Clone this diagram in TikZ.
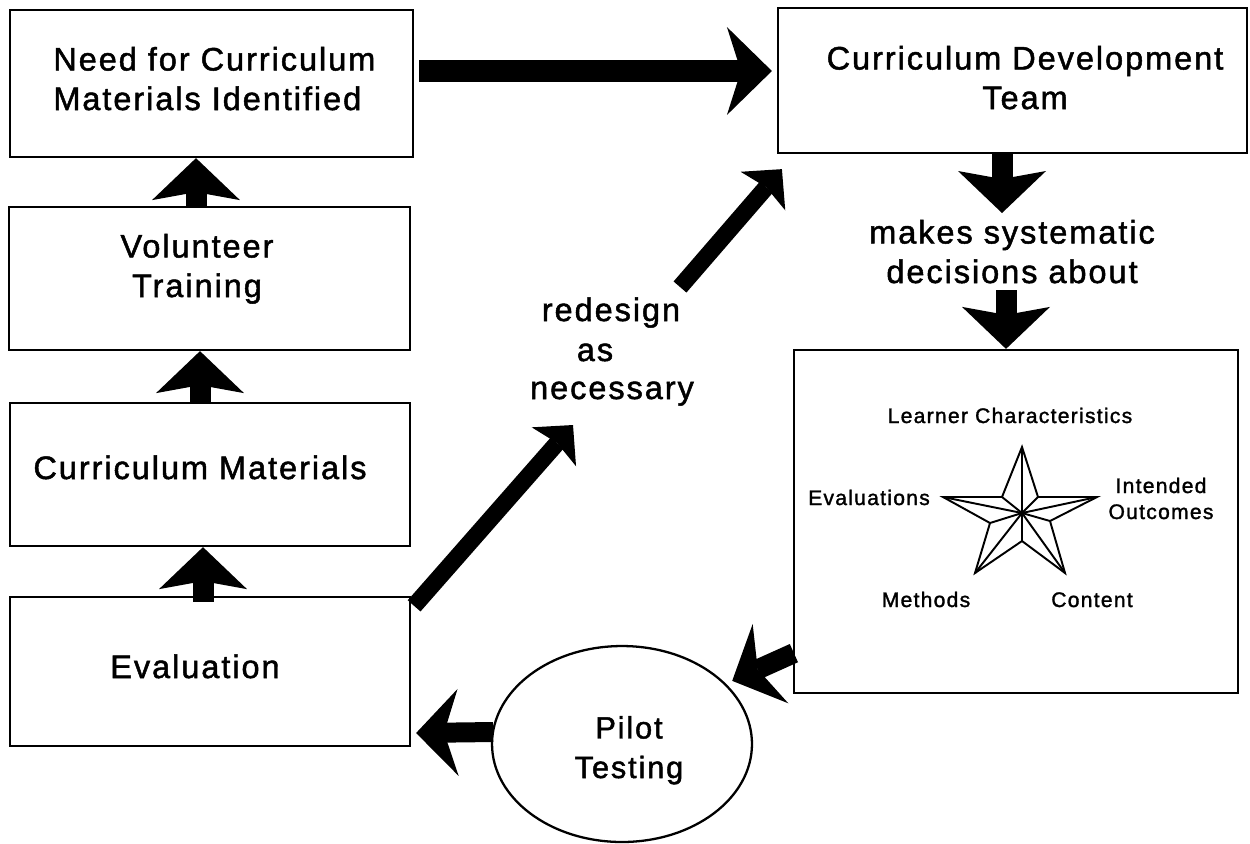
\documentclass[tikz,border=0pt]{standalone}
\usepackage{fontspec}
\setmainfont{Liberation Sans}[LetterSpace=6,FakeBold=1.5]
\usetikzlibrary{arrows.meta,shapes.geometric,calc}

\begin{document}
\begin{tikzpicture}[x=0.02cm,y=-0.02cm,
  box/.style 2 args={draw,line width=1.3pt,inner sep=0pt,
    minimum width=#1,minimum height=#2},
  bigtxt/.style={font=\fontsize{18.5pt}{22.5pt}\selectfont,align=center,inner sep=0pt},
  smalltxt/.style={font=\fontsize{12pt}{14.8pt}\selectfont,align=center,inner sep=0pt},
  fatarrow/.style={line width=0.44cm,
    -{Stealth[length=0.9cm,width=1.76cm,inset=0.28cm,line width=0pt]}},
  blockarrow/.style={line width=0.42cm,
    -{Stealth[length=0.84cm,width=1.76cm,inset=0.16cm,line width=0pt]}},
  swept/.style={line width=0.4cm,
    -{Stealth[length=0.84cm,width=1.74cm,inset=0.28cm,line width=0pt]}},
  slim/.style={line width=0.34cm,
    -{Stealth[length=0.58cm,width=1.18cm,inset=0.1cm,line width=0pt]}},
  starline/.style={line width=1.1pt,line join=miter}]
\useasboundingbox (0,0) rectangle (1250,843);

% boxes
\node[box={8.06cm}{2.94cm}] (b1) at (211.5,83.5) {};
\node[box={8.02cm}{2.86cm}] (b2) at (209.5,278.5) {};
\node[box={8cm}{2.86cm}]    (b3) at (210,474.5) {};
\node[box={8cm}{2.98cm}]    (b4) at (210,671.5) {};
\node[box={9.38cm}{2.9cm}]  (b5) at (1012.5,80.5) {};
\node[box={8.88cm}{6.86cm}] (b6) at (1016,521.5) {};
\node[ellipse,draw,line width=1.3pt,inner sep=0pt,
      minimum width=5.2cm,minimum height=3.92cm] (pt) at (622,744) {};

% box texts (base anchor = baseline of the last line)
\node[bigtxt,anchor=base west,align=left] (t1) at (53,110)
  {Need for Curriculum\\Materials Identified};
\node[bigtxt,anchor=base] (t2) at (197,297) {Volunteer\\Training};
\node[bigtxt,anchor=base] (t3) at (200,479) {Curriculum Materials};
\node[bigtxt,anchor=base] (t4) at (195,678) {Evaluation};
\node[bigtxt,anchor=base] (t5) at (1025,109) {Curriculum Development\\Team};
\node[bigtxt,anchor=base] (t6) at (1012,283) {makes systematic\\decisions about};
\node[bigtxt,anchor=base] (rd1) at (611,321) {redesign};
\node[bigtxt,anchor=base] (rd2) at (595,361) {as};
\node[bigtxt,anchor=base] (rd3) at (612,399) {necessary};
\node[bigtxt,font=\fontsize{17.5pt}{22.5pt}\selectfont,anchor=base] (t7) at (629,778)
  {Pilot\\Testing};

% star labels
\node[smalltxt,anchor=base] (s1) at (1010,423) {Learner Characteristics};
\node[smalltxt,anchor=base] (s2) at (869,505) {Evaluations};
\node[smalltxt,anchor=base] (s3) at (1161,519) {Intended\\Outcomes};
\node[smalltxt,anchor=base] (s4) at (926,607) {Methods};
\node[smalltxt,anchor=base] (s5) at (1092,607) {Content};

% star
\coordinate (c)  at (1022,513);
\coordinate (p1) at (1022,447);
\coordinate (q1) at (1038,497);
\coordinate (p2) at (1097,497);
\coordinate (q2) at (1050,521);
\coordinate (p3) at (1065,573);
\coordinate (q3) at (1022,541);
\coordinate (p4) at (975,573);
\coordinate (q4) at (990,523);
\coordinate (p5) at (943,497);
\coordinate (q5) at (1002,497);
\draw[starline] (p1)--(q1)--(p2)--(q2)--(p3)--(q3)--(p4)--(q4)--(p5)--(q5)--cycle;
\foreach \p in {p1,q1,p2,q2,p3,q3,p4,q4,p5,q5}
  \draw[starline] (c) -- (\p);

% connectors
\draw[fatarrow] ($(b1.east |- 0,71)+(5,0)$) -- ($(b5.west |- 0,71)+(-5,0)$);
\draw[blockarrow] (b2.north -| 196,0) -- (b1.south -| 196,0);
\draw[blockarrow] (b3.north -| 200,0) -- (b2.south -| 200,0);
\draw[blockarrow] ($(b4.north -| 203,0)+(0,6)$) -- (b3.south -| 203,0);

\coordinate (d1tip) at (1002,213);
\draw[blockarrow] (b5.south -| 1002,0) -- (d1tip);
\coordinate (d2tail) at (1006,290);
\draw[blockarrow] (d2tail) -- (b6.north -| 1006,0);

\coordinate (r1tip) at (573,425);
\draw[slim] ($(b4.north east)+(3,10)$) -- (r1tip);
\coordinate (r2tail) at (680,287);
\draw[slim] (r2tail) -- ($(b5.south west)+(5,15)$);

\draw[swept] ($(b6.south west)+(1,-41)$) -- ($(pt.30)+(6,-3)$);
\draw[swept] ($(pt.west)+(2,-12)$) -- ($(b4.east |- 0,733)+(5,0)$);
\end{tikzpicture}
\end{document}
